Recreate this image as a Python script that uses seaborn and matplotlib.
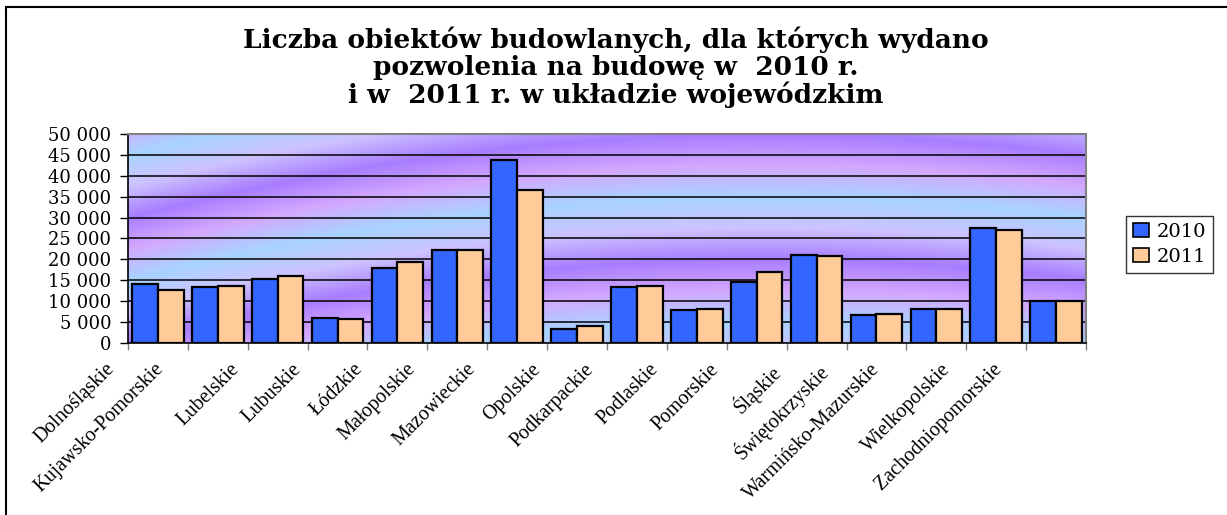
import matplotlib
matplotlib.use("Agg")
import matplotlib.pyplot as plt
import matplotlib.transforms as mtransforms
from matplotlib.colors import LinearSegmentedColormap
from matplotlib.patches import Patch
from matplotlib.lines import Line2D
import matplotlib.ticker as mticker
import numpy as np
import pandas as pd
import seaborn as sns

regions = ['Dolnośląskie', 'Kujawsko-Pomorskie', 'Lubelskie', 'Lubuskie', 'Łódzkie',
           'Małopolskie', 'Mazowieckie', 'Opolskie', 'Podkarpackie', 'Podlaskie',
           'Pomorskie', 'Śląskie', 'Świętokrzyskie', 'Warmińsko-Mazurskie',
           'Wielkopolskie', 'Zachodniopomorskie']
y2010 = [14100, 13400, 15350, 6050, 18050, 22350, 43800, 3350,
         13400, 7950, 14650, 21100, 6600, 8250, 27450, 9950]
y2011 = [12650, 13700, 16050, 5650, 19400, 22350, 36700, 3950,
         13700, 8250, 17050, 20700, 7000, 8250, 27050, 9950]
years = ['2010', '2011']
colors = {'2010': '#3366FF', '2011': '#FFCC99'}

df = pd.DataFrame({
    'region': regions * 2,
    'rok': ['2010'] * len(regions) + ['2011'] * len(regions),
    'liczba': y2010 + y2011,
})

sns.set_style('white')
plt.rcParams['text.color'] = 'black'
plt.rcParams['xtick.color'] = 'black'
plt.rcParams['ytick.color'] = 'black'
fig = plt.figure(figsize=(12.27, 5.15), dpi=100)
ax = fig.add_axes([0.1043, 0.334, 0.7808, 0.4058])

# diagonal streaky background of the plot area (decoration only)
gx, gy = np.meshgrid(np.linspace(0, 1, 500), np.linspace(0, 1, 200))
phase = ((gy - (1.2 * gx - 0.9 * gx ** 2)) / 0.6) % 1.0
bg_cmap = LinearSegmentedColormap.from_list(
    'bg', [(0, '#9966FF'), (0.25, '#C4B8FF'), (0.5, '#99CCFF'), (0.75, '#CC99FF'), (1, '#9966FF')])
ax.imshow(phase, cmap=bg_cmap, extent=[-0.5, 15.5, 0, 50000], aspect='auto',
          origin='lower', zorder=0, alpha=0.85, interpolation='bilinear')

for v in range(5000, 50001, 5000):
    ax.axhline(v, color='black', lw=1.1, zorder=1)

sns.barplot(data=df, x='region', y='liczba', hue='rok', hue_order=years,
            palette=colors, edgecolor='black', linewidth=1.6, width=0.86,
            saturation=1, ax=ax, zorder=2, legend=False)

ax.set_xlim(-0.5, 15.5)
ax.set_ylim(0, 50000)
ax.set_yticks(range(0, 50001, 5000))
ax.yaxis.set_major_formatter(mticker.FuncFormatter(lambda v, p: f'{int(v):,}'.replace(',', ' ')))
ax.tick_params(axis='y', length=6, width=1, color='black', labelcolor='black', left=True, pad=6)
for t in ax.get_yticklabels():
    t.set_fontfamily('DejaVu Serif')
    t.set_fontsize(13)

ax.set_xticks(np.arange(16))
ax.set_xticks(np.arange(-0.5, 16, 1), minor=True)
ax.tick_params(axis='x', which='major', length=0, labelcolor='black')
ax.tick_params(axis='x', which='minor', length=5, width=1, color='#808080', bottom=True)
ax.set_xticklabels(regions, rotation=45, ha='right', va='top', rotation_mode='default',
                   fontfamily='Liberation Serif', fontsize=14.5)
for t, name in zip(ax.get_xticklabels(), regions):
    off = -(18 + 1.8 * len(name)) / 100.0
    t.set_transform(t.get_transform() + mtransforms.ScaledTranslation(off, -0.12, fig.dpi_scale_trans))

ax.set_xlabel('')
ax.set_ylabel('')
for s in ['left', 'bottom']:
    ax.spines[s].set_color('black')
    ax.spines[s].set_linewidth(1.2)
for s in ['top', 'right']:
    ax.spines[s].set_color('#808080')
    ax.spines[s].set_linewidth(1.5)

handles = [Patch(facecolor=colors[y], edgecolor='black', linewidth=1.2, label=y) for y in years]
leg = fig.legend(handles=handles, loc='center left', bbox_to_anchor=(0.918, 0.526),
                 prop={'family': 'DejaVu Serif', 'size': 14}, frameon=True, fancybox=False,
                 handlelength=0.8, handleheight=0.8, handletextpad=0.4, borderpad=0.35,
                 labelspacing=0.35, borderaxespad=0)
leg.get_frame().set_edgecolor('black')
leg.get_frame().set_linewidth(1.0)

fig.text(0.502, 0.948, 'Liczba obiektów budowlanych, dla których wydano\n'
         'pozwolenia na budowę w  2010 r.\ni w  2011 r. w układzie wojewódzkim',
         ha='center', va='top', color='black', fontfamily='DejaVu Serif', fontweight='bold',
         fontsize=19, linespacing=1.08)

# outer frame (top and left only)
fig.add_artist(Line2D([0.005, 0.005], [0, 0.986], transform=fig.transFigure, color='black', lw=1.5))
fig.add_artist(Line2D([0.005, 1.0], [0.986, 0.986], transform=fig.transFigure, color='black', lw=1.5))

fig.savefig('out.png', dpi=100)
